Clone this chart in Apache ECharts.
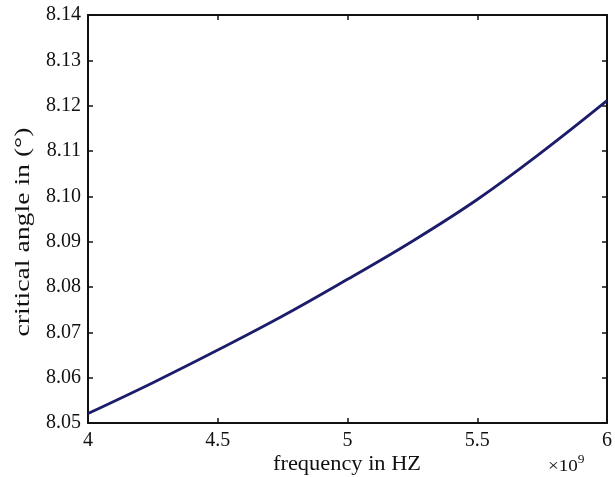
<!DOCTYPE html>
<html>
<head>
<meta charset="utf-8">
<script src="https://cdn.jsdelivr.net/npm/echarts@6/dist/echarts.min.js"></script>
<style>html,body{margin:0;padding:0;background:#fff;}#c{width:615px;height:477px;}</style>
</head>
<body>
<div id="c"></div>
<script>
const frequency = [4.0, 4.25, 4.5, 4.75, 5.0, 5.25, 5.5, 5.75, 6.0];
const criticalAngle = [8.0521, 8.0589, 8.0661, 8.0736, 8.0817, 8.0901, 8.0993, 8.1098, 8.1211];
const yTicks = ['8.05','8.06','8.07','8.08','8.09','8.10','8.11','8.12','8.13','8.14'];
const xTicks = ['4','4.5','5','5.5','6'];
const xName = 'frequency in HZ';
const yName = 'critical angle in (°)';

const font = 'Liberation Serif';
const chart = echarts.init(document.getElementById('c'), null, {renderer:'canvas'});
const axisLine = {show:true, lineStyle:{color:'#111', width:2}};
const tick = {show:true, inside:true, length:5, lineStyle:{color:'#111', width:1.5}};
chart.setOption({
  animation:false,
  backgroundColor:'#fff',
  grid:{left:88, right:8, top:15, bottom:54},
  xAxis:[{
    type:'value', min:4, max:6, interval:0.5,
    axisLine:axisLine, axisTick:tick, splitLine:{show:false},
    axisLabel:{color:'#111', fontFamily:font, fontSize:20, margin:8,
      formatter:v=>{const s=String(+v.toFixed(1)); return xTicks.includes(s)?s:'';}}
  },{
    type:'value', min:4, max:6, interval:0.5, position:'top',
    axisLine:axisLine, axisTick:tick, axisLabel:{show:false}, splitLine:{show:false}
  }],
  yAxis:[{
    type:'value', min:8.05, max:8.14, interval:0.01,
    axisLine:axisLine, axisTick:tick, splitLine:{show:false},
    axisLabel:{color:'#111', fontFamily:font, fontSize:20, margin:7,
      formatter:v=>{const s=v.toFixed(2); return yTicks.includes(s)?s:'';}}
  },{
    type:'value', min:8.05, max:8.14, interval:0.01, position:'right',
    axisLine:axisLine, axisTick:tick, axisLabel:{show:false}, splitLine:{show:false}
  }],
  graphic:[{
    type:'text', x:347, y:465, scaleX:1.12,
    style:{text:xName, fontFamily:font, fontSize:20, fill:'#111', align:'center', verticalAlign:'middle'}
  },{
    type:'text', x:23, y:232, rotation:Math.PI/2, scaleX:1.32,
    style:{text:yName, fontFamily:font, fontSize:21, fill:'#111', align:'center', verticalAlign:'middle'}
  },{
    type:'text', x:548, y:454, scaleX:1.12,
    style:{text:'{a|×10}{b|9}', rich:{
      a:{fontFamily:font, fontSize:17, fill:'#111', verticalAlign:'bottom'},
      b:{fontFamily:font, fontSize:12, fill:'#111', verticalAlign:'top', padding:[0,0,9,0]}
    }}
  }],
  series:[{
    type:'line', smooth:0.4, symbol:'none', xAxisIndex:0, yAxisIndex:0,
    data: frequency.map((f,i)=>[f, criticalAngle[i]]),
    lineStyle:{color:'#1c1c6b', width:2.8}
  }]
});
</script>
</body>
</html>
